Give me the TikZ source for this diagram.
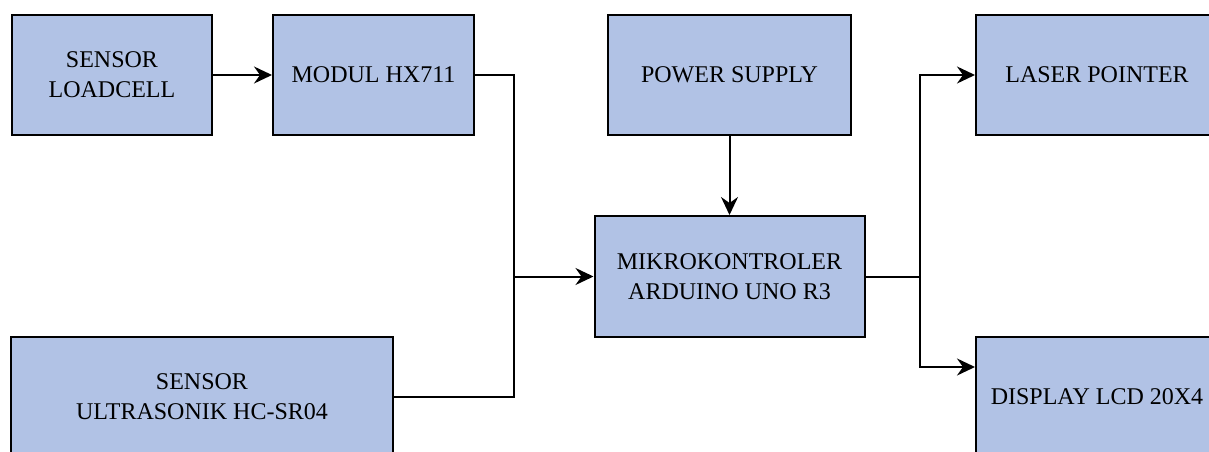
\documentclass[tikz,border=0pt]{standalone}
\usepackage{fontspec}
\setmainfont{Liberation Serif}
\usepackage{tikz}
\usetikzlibrary{arrows.meta,positioning,calc}

\definecolor{blockfill}{RGB}{177,194,229}

\begin{document}
\begin{tikzpicture}[
  x=1pt, y=-1pt,
  block/.style={rectangle, draw, line width=2pt, fill=blockfill,
    minimum height=120pt, align=center, inner sep=2pt,
    font=\fontsize{24}{30}\selectfont},
  wire/.style={line width=2pt},
  arr/.style={wire, -{Stealth[length=18pt,width=17pt,inset=6pt]}}
]
\useasboundingbox (0,0) rectangle (1209,452);

% Blocks
\node[block, minimum width=200pt] (loadcell) at (112,75)    {SENSOR\\LOADCELL};
\node[block, minimum width=201pt] (hx)       at (373.5,75)  {MODUL HX711};
\node[block, minimum width=243pt] (power)    at (729.5,75)  {POWER SUPPLY};
\node[block, minimum width=270pt, minimum height=121pt] (mcu) at (729.5,276.5) {MIKROKONTROLER\\ARDUINO UNO R3};
\node[block, minimum width=242pt] (laser)    at (1097,75)   {LASER POINTER};
\node[block, minimum width=242pt] (lcd)      at (1097,397)  {DISPLAY LCD 20X4};
\node[block, minimum width=382pt] (sonic)    at (202,397)   {SENSOR\\ULTRASONIK HC-SR04};

% Junctions
\coordinate (jin)   at (514,276.5);
\coordinate (jout)  at (920,276.5);
\coordinate (lcdin) at (lcd.west |- 0,367);

% Connections
\draw[arr]  (loadcell.east) -- (hx.west);
\draw[wire] (hx.east) -| (jin);
\draw[wire] (sonic.east) -| (jin);
\draw[arr]  (jin) -- (mcu.west);
\draw[arr]  (power.south) -- (mcu.north);
\draw[wire] (mcu.east) -- (jout);
\draw[arr]  (jout) |- (laser.west);
\draw[arr]  (jout) |- (lcdin);

\end{tikzpicture}
\end{document}
